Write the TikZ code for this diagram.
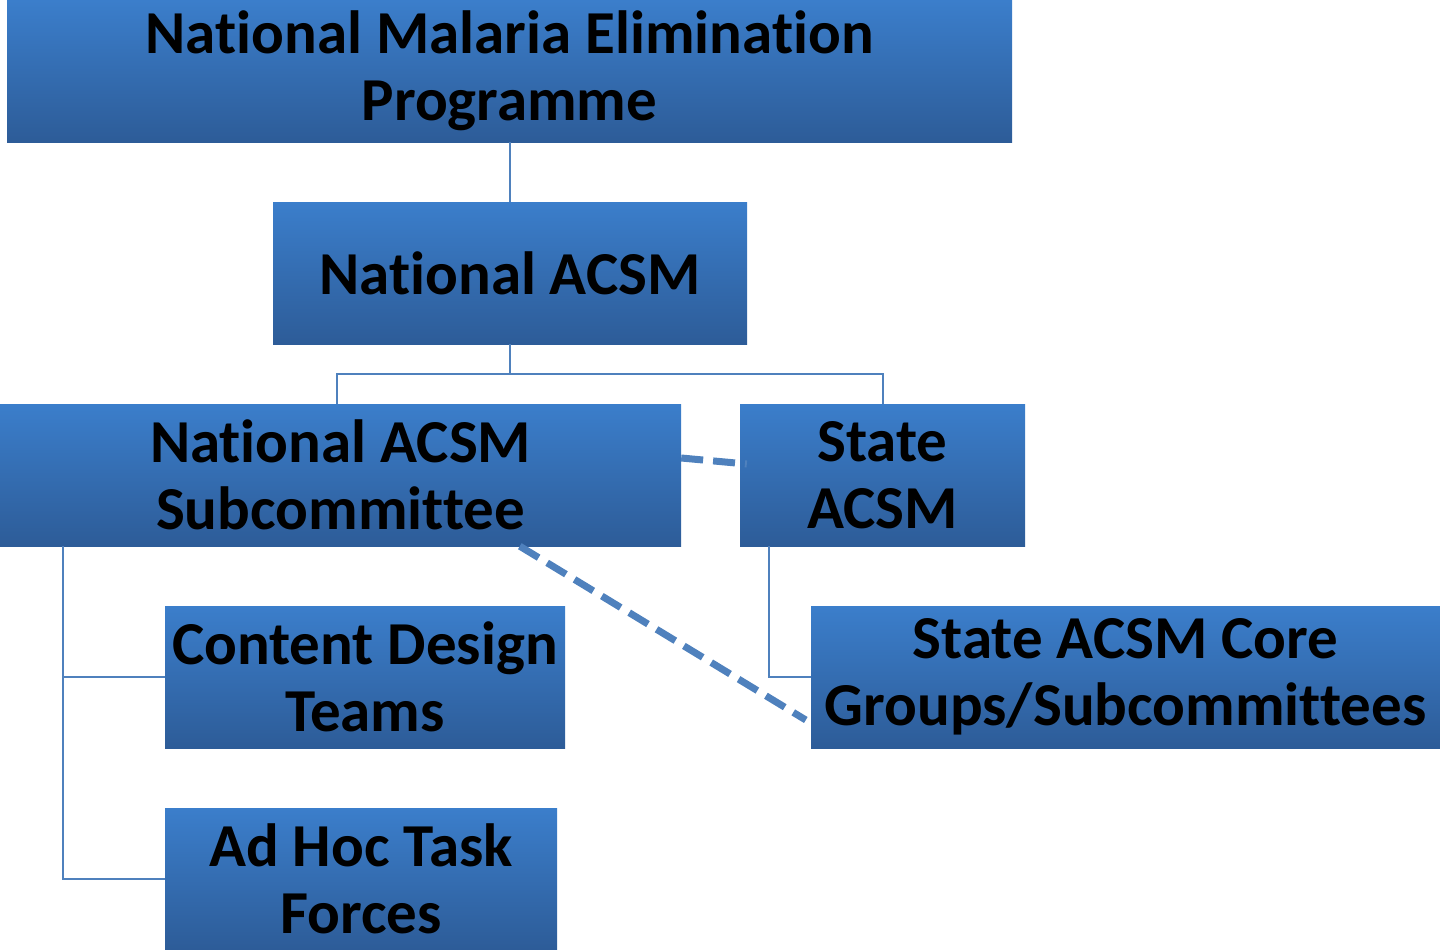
\documentclass[tikz,border=0pt]{standalone}
\usepackage{fontspec}
\setmainfont{Carlito}[Ligatures=NoCommon]
\usepackage{tikz}
\usetikzlibrary{positioning,calc}
\definecolor{boxtop}{RGB}{59,126,203}
\definecolor{boxbot}{RGB}{45,92,152}
\definecolor{linkblue}{RGB}{79,129,189}
\tikzset{orgbox/.style={rectangle, minimum height=142, inner sep=0pt, align=center, shading=axis, top color=boxtop, bottom color=boxbot, font=\fontsize{61}{67}\selectfont\bfseries}}
\tikzset{conn/.style={draw=linkblue, line width=2}}
\tikzset{dconn/.style={draw=linkblue, line width=7, dash pattern=on 22 off 10}}

\begin{document}
\begin{tikzpicture}[x=1pt, y=-1pt]
	\useasboundingbox (0,0) rectangle (1440,950);
	\node[orgbox, minimum width=1005] (nmep) at (509.5, 71) {National Malaria Elimination\\Programme};
	\node[orgbox, minimum width=474] (nacsm) at (510, 273) {National ACSM};
	\node[orgbox, minimum width=681] (sub) at (340.5, 475) {National ACSM\\Subcommittee};
	\node[orgbox, minimum width=285] (state) at (882.5, 475) {State\\ACSM};
	\node[orgbox, minimum width=400] (content) at (365, 677) {Content Design\\Teams};
	\node[orgbox, minimum width=392] (adhoc) at (361, 879) {Ad Hoc Task\\Forces};
	\node[orgbox, minimum width=629] (core) at (1125.5, 677) {State ACSM Core\\Groups/Subcommittees};

	% solid tree links
	\draw[conn] (nmep.south -| nacsm) -- (nacsm.north);
	\coordinate (split) at ($(nacsm.south)+(0,30)$);
	\draw[conn] (nacsm.south) -- (split) -| ([xshift=-3.5]sub.north);
	\draw[conn] (split) -| (state.north);
	\draw[conn] ([xshift=63]sub.south west) |- (content.west);
	\draw[conn] ([xshift=63]sub.south west) |- (adhoc.west);
	\draw[conn] ([xshift=29]state.south west) |- (core.west);

	% dashed cross links
	\draw[dconn] ([yshift=17]sub.east) -- ([xshift=7, yshift=11]state.west);
	\draw[dconn] ([xshift=520]sub.south west) -- ([xshift=-5, yshift=-43]core.west);
\end{tikzpicture}
\end{document}
